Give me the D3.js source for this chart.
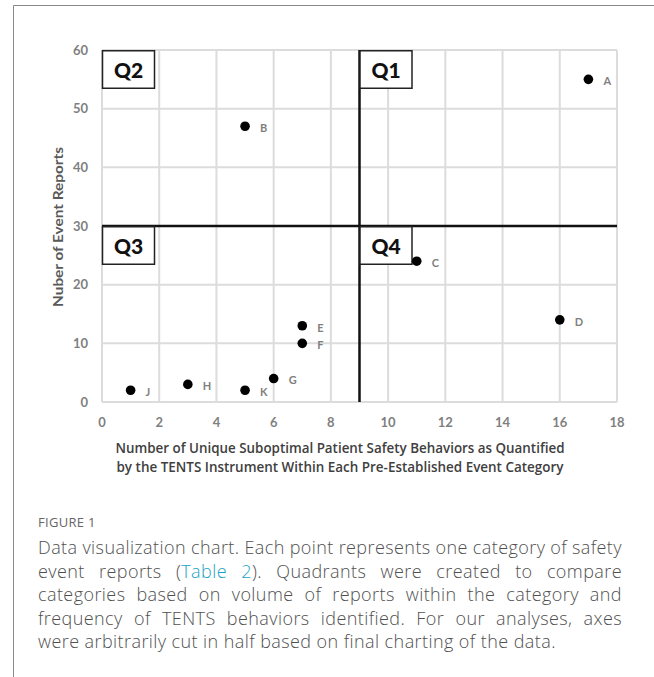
<!DOCTYPE html>
<html><head><meta charset="utf-8">
<script src="https://cdn.jsdelivr.net/npm/d3@7"></script>
<style>
html,body{margin:0;padding:0;background:#fff;}
#wrap{position:relative;width:654px;height:677px;overflow:hidden;}
svg{position:absolute;left:0;top:0;}
.cap{position:absolute;left:38px;font-family:"Open Sans",sans-serif;font-weight:300;font-size:18px;letter-spacing:0.42px;color:#505050;white-space:nowrap;line-height:20px;}
</style></head><body>
<div id="wrap"></div>
<script>
const labels = ["A","B","C","D","E","F","G","H","J","K"];
const behaviors = [17,5,11,16,7,7,6,3,1,5];
const reports = [55,47,24,14,13,10,4,3,2,2];
const xTicks = [0,2,4,6,8,10,12,14,16,18];
const yTicks = [0,10,20,30,40,50,60];
const quadrants = ["Q1","Q2","Q3","Q4"];
const cutX = 9, cutY = 30;
const xTitle = ["Number of Unique Suboptimal Patient Safety Behaviors as Quantified","by the TENTS Instrument Within Each Pre-Established Event Category"];
const yTitle = "Nuber of Event Reports";
const captionHead = "FIGURE 1";
const captionLines = [
 ["Data visualization chart. Each point represents one category of safety"],
 ["event reports (", "Table 2", "). Quadrants were created to compare"],
 ["categories based on volume of reports within the category and"],
 ["frequency of TENTS behaviors identified. For our analyses, axes"],
 ["were arbitrarily cut in half based on final charting of the data."]
];

const wrap = d3.select("#wrap");
const svg = wrap.append("svg").attr("width",654).attr("height",677);

// frame
svg.append("path").attr("d","M13.5,677 V5.5 H654").attr("fill","none").attr("stroke","#8a8a8a").attr("stroke-width",1);

const x = d3.scaleLinear().domain([0,18]).range([102,617]);
const y = d3.scaleLinear().domain([0,60]).range([402,50]);
const font = "Lato, 'Open Sans', sans-serif";

// grid
const g = svg.append("g");
g.selectAll(".vx").data(xTicks).join("line")
 .attr("x1",d=>x(d)).attr("x2",d=>x(d)).attr("y1",y(0)).attr("y2",y(60))
 .attr("stroke","#dcdcdc").attr("stroke-width",2);
g.selectAll(".hy").data(yTicks).join("line")
 .attr("y1",d=>y(d)).attr("y2",d=>y(d)).attr("x1",x(0)).attr("x2",x(18))
 .attr("stroke","#dcdcdc").attr("stroke-width",2);

// tick labels
svg.selectAll(".yt").data(yTicks).join("text")
 .attr("x",88).attr("y",d=>y(d)).attr("dy","0.35em").attr("text-anchor","end")
 .attr("font-family",font).attr("font-weight",700).attr("font-size",13).attr("fill","#7f7f7f")
 .text(d=>d);
svg.selectAll(".xt").data(xTicks).join("text")
 .attr("x",d=>x(d)).attr("y",422).attr("dy","0.35em").attr("text-anchor","middle")
 .attr("font-family",font).attr("font-weight",700).attr("font-size",13).attr("fill","#7f7f7f")
 .text(d=>d);

// quadrant lines
svg.append("line").attr("x1",x(cutX)).attr("x2",x(cutX)).attr("y1",y(60)).attr("y2",y(0))
 .attr("stroke","#111").attr("stroke-width",2.5);
svg.append("line").attr("x1",x(0)).attr("x2",x(18)).attr("y1",y(cutY)).attr("y2",y(cutY))
 .attr("stroke","#111").attr("stroke-width",2.5);

// quadrant boxes
const qpos = {Q1:[cutX,60],Q2:[0,60],Q3:[0,cutY],Q4:[cutX,cutY]};
quadrants.forEach(q=>{
  const px = x(qpos[q][0]), py = y(qpos[q][1]);
  svg.append("rect").attr("x",px+0.5).attr("y",py+0.75).attr("width",52).attr("height",37.5)
    .attr("fill","#fff").attr("stroke","#222").attr("stroke-width",1.5);
  svg.append("text").attr("x",px+26.5).attr("y",py+20).attr("dy","0.36em").attr("text-anchor","middle")
    .attr("font-family",font).attr("font-weight",900).attr("font-size",21).attr("fill","#111").text(q);
});

// points
const pts = labels.map((l,i)=>({l,x:behaviors[i],y:reports[i]}));
svg.selectAll(".pt").data(pts).join("circle")
 .attr("cx",d=>x(d.x)).attr("cy",d=>y(d.y)).attr("r",4.8).attr("fill","#000");
svg.selectAll(".pl").data(pts).join("text")
 .attr("x",d=>x(d.x)+15).attr("y",d=>y(d.y)+2).attr("dy","0.35em")
 .attr("font-family",font).attr("font-weight",700).attr("font-size",11).attr("fill","#7f7f7f")
 .text(d=>d.l);

// axis titles
svg.append("text").attr("transform","translate(58,227) rotate(-90)").attr("text-anchor","middle").attr("dy","0.35em")
 .attr("font-family",font).attr("font-weight",700).attr("font-size",14).attr("fill","#595959")
 .attr("textLength",160).attr("lengthAdjust","spacingAndGlyphs").text(yTitle);
xTitle.forEach((t,i)=>{
  svg.append("text").attr("x",340).attr("y",448+i*18.5).attr("dy","0.35em").attr("text-anchor","middle")
   .attr("font-family","'Open Sans', Lato, sans-serif").attr("font-weight",600).attr("font-size",14.5).attr("fill","#404040")
   .attr("textLength",i===0?449:447).attr("lengthAdjust","spacingAndGlyphs").text(t);
});

// caption
wrap.append("div").attr("class","cap").style("top","512px").style("font-size","13px").style("letter-spacing","0.3px").style("font-weight","400").style("color","#666").text(captionHead);
captionLines.forEach((parts,i)=>{
  const d = wrap.append("div").attr("class","cap").style("top",(537+i*23.6)+"px");
  parts.forEach(p=>{
    if(p==="Table 2") d.append("span").style("color","#1aa3c4").text(p);
    else d.append("span").text(p);
  });
  if(i<captionLines.length-1){
    const node = d.node();
    const w = node.getBoundingClientRect().width;
    const nSpaces = parts.join("").split(" ").length-1;
    d.style("word-spacing",((584-w)/nSpaces)+"px");
  }
});
</script>
</body></html>
